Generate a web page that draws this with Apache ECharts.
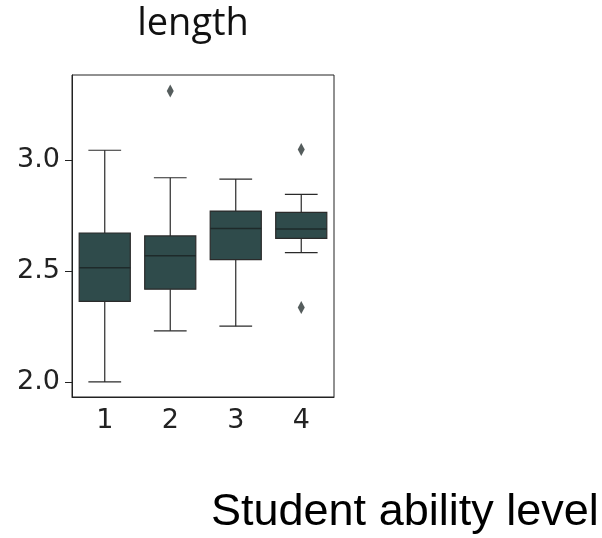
<!DOCTYPE html>
<html><head><meta charset="utf-8">
<script src="https://cdn.jsdelivr.net/npm/echarts@6/dist/echarts.min.js"></script>
<style>html,body{margin:0;padding:0;background:#fff}#c{width:602px;height:538px}</style>
</head><body><div id="c"></div>
<script>
const categories = ['1', '2', '3', '4'];
const whiskerLow = [2.000, 2.230, 2.251, 2.583];
const q1 = [2.363, 2.418, 2.551, 2.647];
const median = [2.514, 2.569, 2.691, 2.689];
const q3 = [2.671, 2.658, 2.770, 2.764];
const whiskerHigh = [3.044, 2.920, 2.914, 2.845];
const outliers = [['2', 3.311], ['4', 3.047], ['4', 2.335]];
const yTicks = [2.0, 2.5, 3.0];
const titleText = 'length';
const xTitle = 'Student ability level';

const boxData = categories.map((c, i) => [i, whiskerLow[i], q1[i], median[i], q3[i], whiskerHigh[i]]);
const BOX = '#2f4b4b', LINE = '#2a2a2a';

const chart = echarts.init(document.getElementById('c'), null, {renderer: 'canvas'});
chart.setOption({
  animation: false,
  backgroundColor: '#fff',
  title: {
    text: titleText, left: 188, top: 0, textAlign: 'center',
    textStyle: {fontFamily: 'Open Sans', fontSize: 38, fontWeight: 'normal', color: '#111'}
  },
  graphic: [{
    type: 'text', left: 211, top: 490,
    style: {text: xTitle, font: '45px "Liberation Sans"', fill: '#000'}
  }],
  grid: {left: 72, top: 75, width: 262, height: 322, show: true, borderColor: '#222', borderWidth: 1, backgroundColor: 'transparent'},
  xAxis: {
    type: 'category', data: categories, boundaryGap: true,
    axisLine: {lineStyle: {color: '#222', width: 1}},
    axisTick: {alignWithLabel: true, length: 7, lineStyle: {color: '#222'}},
    axisLabel: {fontFamily: 'DejaVu Sans', fontSize: 27, color: '#222', margin: 10},
    splitLine: {show: false}
  },
  yAxis: {
    type: 'value', min: 1.932, max: 3.383,
    axisLine: {show: true, lineStyle: {color: '#222', width: 1}},
    axisTick: {show: true, length: 7, customValues: yTicks, lineStyle: {color: '#222'}},
    axisLabel: {customValues: yTicks, fontFamily: 'DejaVu Sans', fontSize: 27, color: '#222', margin: 12,
      formatter: v => v.toFixed(1)},
    splitLine: {show: false}
  },
  series: [{
    type: 'custom',
    data: boxData,
    encode: {x: 0, y: [1, 2, 3, 4, 5]},
    renderItem: function (params, api) {
      const x = api.value(0);
      const band = api.size([1, 0])[0];
      const bw = band * 0.78, cw = band * 0.5;
      const pLow = api.coord([x, api.value(1)]);
      const pQ1 = api.coord([x, api.value(2)]);
      const pMed = api.coord([x, api.value(3)]);
      const pQ3 = api.coord([x, api.value(4)]);
      const pHigh = api.coord([x, api.value(5)]);
      const cx = pQ1[0];
      const ls = {stroke: LINE, lineWidth: 1.2};
      return {type: 'group', children: [
        {type: 'line', shape: {x1: cx, y1: pHigh[1], x2: cx, y2: pQ3[1]}, style: ls},
        {type: 'line', shape: {x1: cx, y1: pQ1[1], x2: cx, y2: pLow[1]}, style: ls},
        {type: 'line', shape: {x1: cx - cw / 2, y1: pHigh[1], x2: cx + cw / 2, y2: pHigh[1]}, style: ls},
        {type: 'line', shape: {x1: cx - cw / 2, y1: pLow[1], x2: cx + cw / 2, y2: pLow[1]}, style: ls},
        {type: 'rect', shape: {x: cx - bw / 2, y: pQ3[1], width: bw, height: pQ1[1] - pQ3[1]},
          style: {fill: BOX, stroke: LINE, lineWidth: 1.2}},
        {type: 'line', shape: {x1: cx - bw / 2, y1: pMed[1], x2: cx + bw / 2, y2: pMed[1]}, style: {stroke: '#1e2a2a', lineWidth: 1.5}}
      ]};
    }
  }, {
    type: 'scatter',
    data: outliers,
    symbol: 'diamond', symbolSize: [7, 13],
    itemStyle: {color: '#2a3434'}
  }]
});
</script></body></html>
